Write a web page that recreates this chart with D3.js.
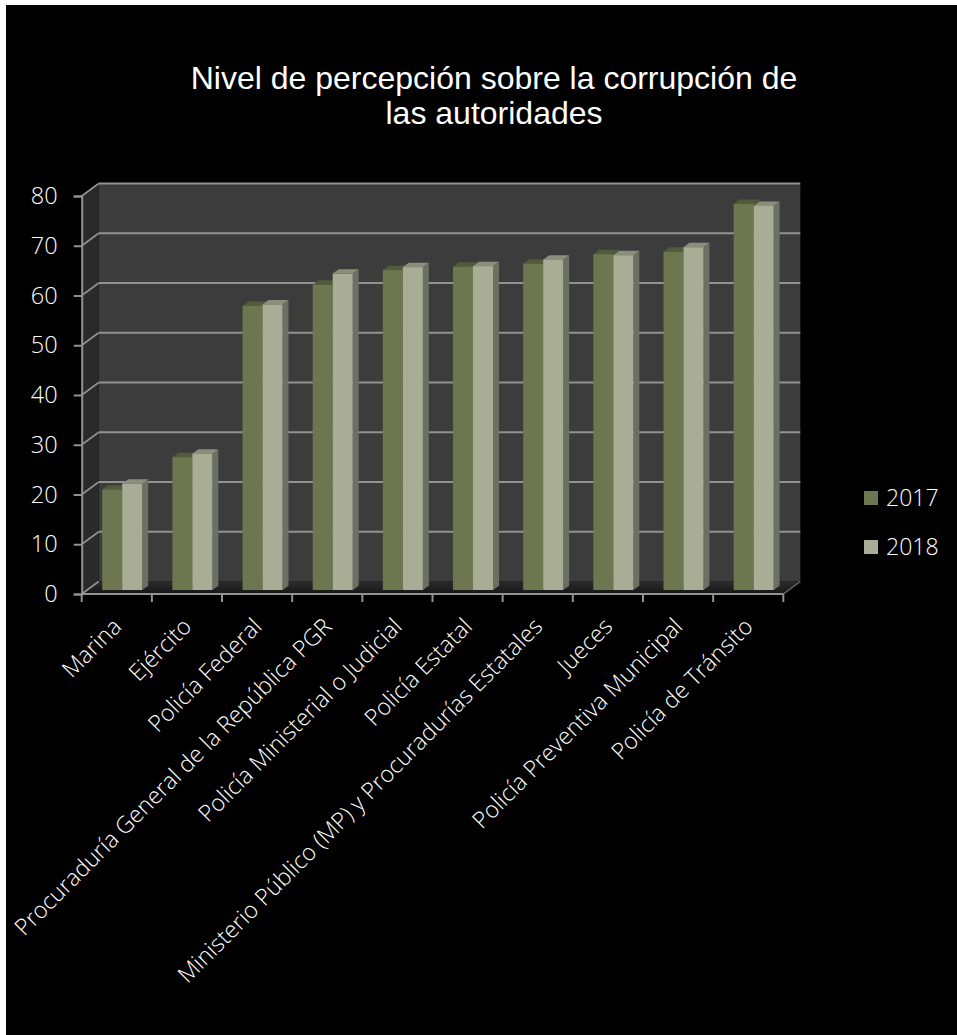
<!DOCTYPE html>
<html>
<head>
<meta charset="utf-8">
<script src="https://cdn.jsdelivr.net/npm/d3@7/dist/d3.min.js"></script>
<style>
  html, body { margin: 0; padding: 0; background: #ffffff; }
  svg { display: block; }
</style>
</head>
<body>
<svg id="chart" width="957" height="1035"></svg>
<script>
const titleLines = ["Nivel de percepción sobre la corrupción de", "las autoridades"];
const categories = [
  "Marina", "Ejército", "Policía Federal", "Procuraduría General de la República PGR",
  "Policía Ministerial o Judicial", "Policía Estatal",
  "Ministerio Público (MP) y Procuradurías Estatales", "Jueces",
  "Policía Preventiva Municipal", "Policía de Tránsito"
];
const seriesNames = ["2017", "2018"];
const values2017 = [20.2, 26.7, 57.1, 61.4, 64.3, 65.0, 65.6, 67.5, 68.0, 77.6];
const values2018 = [21.4, 27.4, 57.4, 63.6, 64.9, 65.1, 66.4, 67.3, 68.9, 77.2];
const yTicks = [0, 10, 20, 30, 40, 50, 60, 70, 80];

const svg = d3.select("#chart");
const W = 957, H = 1035;

// background
svg.append("rect").attr("x", 6).attr("y", 5).attr("width", W - 6).attr("height", H - 5).attr("fill", "#000");

// 3D geometry
const DX = 17, DY = -12.5;          // back-plane offset
const F0 = 0.32, F1 = 0.67;         // bar depth range
const barW = 20;

const x = d3.scaleBand().domain(categories).range([81.7, 783.3]).padding(0);
const y = d3.scaleLinear().domain([0, 80]).range([594, 196]);
const bw = x.bandwidth();
const x0 = x.range()[0], x1 = x.range()[1];
const yBase = y(0), yTop = y(80);

const col = {
  back: "#3c3c3c", left: "#2a2a2a", grid: "#929292",
  s: [
    { front: "#6c7750", top: "#525b3a", side: "#4f5738" },
    { front: "#a9ad95", top: "#8a8e7b", side: "#6c7062" }
  ]
};

// back wall
svg.append("polygon")
  .attr("points", [[x0 + DX, yTop + DY], [x1 + DX, yTop + DY], [x1 + DX, yBase + DY], [x0 + DX, yBase + DY]].join(" "))
  .attr("fill", col.back);
// left wall
svg.append("polygon")
  .attr("points", [[x0, yTop], [x0 + DX, yTop + DY], [x0 + DX, yBase + DY], [x0, yBase]].join(" "))
  .attr("fill", col.left);
// floor
const floorGrad = svg.append("defs").append("linearGradient").attr("id", "fg").attr("x1", 0).attr("y1", 0).attr("x2", 0).attr("y2", 1);
floorGrad.append("stop").attr("offset", "0%").attr("stop-color", "#2c2c2c");
floorGrad.append("stop").attr("offset", "100%").attr("stop-color", "#161616");
svg.append("polygon")
  .attr("points", [[x0, yBase], [x0 + DX, yBase + DY], [x1 + DX, yBase + DY], [x1, yBase]].join(" "))
  .attr("fill", "url(#fg)");

// gridlines: back wall + left wall diagonals
const gridG = svg.append("g");
yTicks.forEach(t => {
  if (t > 0) {
    gridG.append("line")
      .attr("x1", x0 + DX).attr("x2", x1 + DX)
      .attr("y1", y(t) + DY).attr("y2", y(t) + DY)
      .attr("stroke", col.grid).attr("stroke-width", 2);
  }
  gridG.append("line")
    .attr("x1", x0).attr("y1", y(t))
    .attr("x2", x0 + DX).attr("y2", y(t) + DY)
    .attr("stroke", col.grid).attr("stroke-width", 1.6);
});
// right floor edge
svg.append("line").attr("x1", x1).attr("y1", yBase).attr("x2", x1 + DX).attr("y2", yBase + DY)
  .attr("stroke", "#6a6a6a").attr("stroke-width", 1.5);

// bars
const data = categories.map((c, i) => ({ c, v: [values2017[i], values2018[i]] }));
const barsG = svg.append("g");
const ddx = (F1 - F0) * DX, ddy = (F1 - F0) * DY;
data.forEach(d => {
  [0, 1].forEach(s => {
    const left = x(d.c) + (bw - 2 * barW) / 2 + s * barW + F0 * DX;
    const right = left + barW;
    const bottom = y(0) + F0 * DY;
    const top = y(d.v[s]) + F0 * DY;
    const g = barsG.append("g");
    g.append("polygon")
      .attr("points", [[right, top], [right + ddx, top + ddy], [right + ddx, bottom + ddy], [right, bottom]].join(" "))
      .attr("fill", col.s[s].side);
    g.append("polygon")
      .attr("points", [[left, top], [right, top], [right + ddx, top + ddy], [left + ddx, top + ddy]].join(" "))
      .attr("fill", col.s[s].top);
    g.append("rect")
      .attr("x", left).attr("y", top).attr("width", barW).attr("height", bottom - top)
      .attr("fill", col.s[s].front);
  });
});

// left axis (front)
const yAxis = d3.axisLeft(y).tickValues(yTicks).tickSize(8).tickPadding(16);
const yAxisG = svg.append("g").attr("transform", `translate(${x0},0)`).call(yAxis);
yAxisG.select(".domain").attr("stroke", col.grid).attr("stroke-width", 2);
yAxisG.selectAll(".tick line").attr("stroke", col.grid).attr("stroke-width", 2);
yAxisG.selectAll(".tick text")
  .attr("fill", "#fff").attr("font-family", "'Open Sans', sans-serif")
  .attr("font-size", 23.5).attr("font-weight", 300);

// bottom axis
svg.append("line").attr("x1", x0).attr("x2", x1).attr("y1", yBase).attr("y2", yBase)
  .attr("stroke", col.grid).attr("stroke-width", 2);
const boundaries = categories.map(c => x(c)).concat([x1]);
svg.append("g").selectAll("line").data(boundaries).join("line")
  .attr("x1", d => d).attr("x2", d => d).attr("y1", yBase).attr("y2", yBase + 8)
  .attr("stroke", col.grid).attr("stroke-width", 2);

const xAxis = d3.axisBottom(x).tickSize(0).tickPadding(0);
const xAxisG = svg.append("g").attr("transform", `translate(0,${yBase})`).call(xAxis);
xAxisG.select(".domain").remove();
xAxisG.selectAll(".tick text")
  .attr("fill", "#fff").attr("font-family", "'Open Sans', sans-serif")
  .attr("font-size", 23.1).attr("font-weight", 300)
  .attr("text-anchor", "end")
  .attr("dy", 0)
  .attr("transform", "translate(6,34) rotate(-45)");

// title
svg.append("g").selectAll("text").data(titleLines).join("text")
  .attr("x", 494).attr("y", (d, i) => 89 + i * 35)
  .attr("text-anchor", "middle")
  .attr("font-family", "'Liberation Sans', Arial, sans-serif")
  .attr("font-size", 32).attr("fill", "#fff")
  .text(d => d);

// legend
const legend = svg.append("g").selectAll("g").data(seriesNames).join("g")
  .attr("transform", (d, i) => `translate(864,${491 + i * 49})`);
legend.append("rect").attr("width", 14).attr("height", 14).attr("fill", (d, i) => col.s[i].front);
legend.append("text").attr("x", 22).attr("y", 15)
  .attr("fill", "#fff").attr("font-family", "'Open Sans', sans-serif")
  .attr("font-size", 23).attr("font-weight", 300)
  .text(d => d);
</script>
</body>
</html>
